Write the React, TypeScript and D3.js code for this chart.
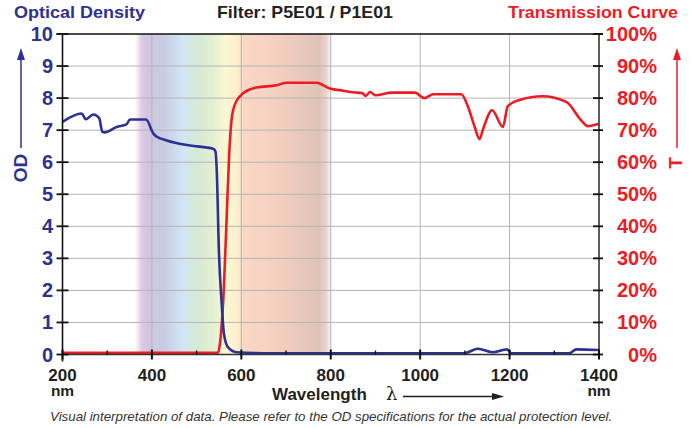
import React from "react";
import * as d3 from "d3";

const odNm = [200, 243, 252, 269, 282, 289, 295, 321, 343, 351, 387, 403, 410, 433, 485, 537, 542, 545, 550, 556, 561, 570, 589, 650, 1099, 1129, 1163, 1194, 1204, 1334, 1349, 1400];
const odValues = [7.26, 7.52, 7.34, 7.49, 7.38, 6.95, 6.93, 7.1, 7.18, 7.33, 7.33, 6.9, 6.8, 6.68, 6.52, 6.42, 6.34, 5.75, 3.15, 1.6, 0.65, 0.23, 0.07, 0.04, 0.04, 0.18, 0.07, 0.16, 0.04, 0.04, 0.16, 0.14];

const tNm = [200, 548, 553, 561, 567, 573, 578, 585, 604, 634, 679, 701, 768, 798, 828, 850, 870, 878, 888, 900, 936, 988, 1010, 1029, 1092, 1107, 1122, 1133, 1140, 1161, 1185, 1196, 1222, 1274, 1327, 1360, 1375, 1400];
const tValues = [0.5, 0.5, 4.4, 21, 42, 63, 73, 77.8, 81.5, 83.3, 84, 84.8, 84.8, 83, 82.3, 81.8, 81.6, 80.7, 81.9, 80.9, 81.7, 81.7, 80, 81.2, 81.2, 77.3, 71, 67.2, 70, 76.2, 71, 77.5, 79.4, 80.6, 78.8, 73.1, 71.25, 72];

const xTicks = [200, 400, 600, 800, 1000, 1200, 1400];
const xMinor = [300, 500, 700, 900, 1100, 1300];
const odTicks = [0, 1, 2, 3, 4, 5, 6, 7, 8, 9, 10];
const tTicks = [0, 10, 20, 30, 40, 50, 60, 70, 80, 90, 100];

const spectrumStops: [number, string][] = [
  [362, "#ffffff"],
  [378, "#dcc8e2"],
  [395, "#cfc6e0"],
  [430, "#c9cde6"],
  [468, "#d3e5f4"],
  [500, "#d6e9d6"],
  [535, "#e2efd3"],
  [565, "#fbf8d4"],
  [590, "#fbf0cc"],
  [605, "#fad8c6"],
  [700, "#f1cdbf"],
  [775, "#dfc3b8"],
  [790, "#e8d5ce"],
  [802, "#ffffff"],
];

const NAVY = "#2e3192";
const RED = "#ed1c24";
const FONT = "'Liberation Sans', Arial, Helvetica, sans-serif";

export default function App() {
  const left = 62.5, right = 599, top = 34, bottom = 354.5;
  const x = d3.scaleLinear().domain([200, 1400]).range([left, right]);
  const yOD = d3.scaleLinear().domain([0, 10]).range([bottom, top]);
  const yT = d3.scaleLinear().domain([0, 100]).range([bottom, top]);

  const odLine = d3
    .line<number>()
    .x((_, i) => x(odNm[i]))
    .y((d) => yOD(d))
    .curve(d3.curveMonotoneX);
  const tLine = d3
    .line<number>()
    .x((_, i) => x(tNm[i]))
    .y((d) => yT(d))
    .curve(d3.curveMonotoneX);

  const g0 = spectrumStops[0][0];
  const g1 = spectrumStops[spectrumStops.length - 1][0];

  return (
    <svg width={692} height={428} style={{ position: "absolute", left: 0, top: 0, background: "#fff" }} fontFamily={FONT}>
      <defs>
        <linearGradient id="spec" gradientUnits="userSpaceOnUse" x1={x(g0)} x2={x(g1)} y1={0} y2={0}>
          {spectrumStops.map(([nm, c], i) => (
            <stop key={i} offset={(nm - g0) / (g1 - g0)} stopColor={c} />
          ))}
        </linearGradient>
      </defs>
      <rect x={0} y={0} width={692} height={428} fill="#fff" />

      {/* spectrum band */}
      <rect x={x(g0)} y={top} width={x(g1) - x(g0)} height={bottom - top} fill="url(#spec)" />

      {/* grid */}
      {odTicks.slice(1, -1).map((t) => (
        <line key={"h" + t} x1={left} x2={right} y1={yOD(t)} y2={yOD(t)} stroke="#b5b5b5" strokeWidth={1} />
      ))}
      {xTicks.slice(1, -1).map((t) => (
        <line key={"v" + t} x1={x(t)} x2={x(t)} y1={top} y2={bottom} stroke="#b5b5b5" strokeWidth={1} />
      ))}

      {/* curves */}
      <path d={tLine(tValues) || ""} fill="none" stroke={RED} strokeWidth={2.6} strokeLinejoin="round" />
      <path d={odLine(odValues) || ""} fill="none" stroke={NAVY} strokeWidth={2.6} strokeLinejoin="round" />

      {/* frame */}
      <line x1={left - 6} x2={right + 4} y1={top} y2={top} stroke="#111" strokeWidth={1.6} />
      <line x1={left} x2={left} y1={top} y2={bottom + 7} stroke="#111" strokeWidth={1.6} />
      <line x1={right} x2={right} y1={top} y2={bottom + 4} stroke="#333" strokeWidth={1.6} />
      <line x1={left} x2={right} y1={bottom} y2={bottom} stroke="#333" strokeWidth={1.4} />

      {/* left ticks & labels */}
      {odTicks.map((t) => (
        <g key={"od" + t}>
          <line x1={left - 6} x2={left + 6} y1={yOD(t)} y2={yOD(t)} stroke="#111" strokeWidth={1.8} />
          <text x={53} y={yOD(t) + 7} textAnchor="end" fontSize={20} fontWeight="bold" fill={NAVY}>
            {t}
          </text>
        </g>
      ))}

      {/* right ticks & labels */}
      {tTicks.map((t) => (
        <g key={"t" + t}>
          <line x1={right - 6} x2={right + 4} y1={yT(t)} y2={yT(t)} stroke="#111" strokeWidth={1.8} />
          <text x={657} y={yT(t) + 7} textAnchor="end" fontSize={20} fontWeight="bold" fill={RED}>
            {t}%
          </text>
        </g>
      ))}

      {/* bottom ticks & labels */}
      {xMinor.map((t) => (
        <line key={"m" + t} x1={x(t)} x2={x(t)} y1={bottom - 4} y2={bottom} stroke="#111" strokeWidth={1.4} />
      ))}
      {xTicks.map((t) => (
        <g key={"x" + t}>
          <line x1={x(t)} x2={x(t)} y1={bottom - 5} y2={bottom + 5} stroke="#111" strokeWidth={2} />
          <text x={x(t)} y={380.5} textAnchor="middle" fontSize={17} fontWeight="bold" fill="#231f20">
            {t}
          </text>
        </g>
      ))}
      <text x={x(200)} y={395.5} textAnchor="middle" fontSize={15.5} fontWeight="bold" fill="#231f20">nm</text>
      <text x={x(1400)} y={395.5} textAnchor="middle" fontSize={15.5} fontWeight="bold" fill="#231f20">nm</text>

      <text x={272} y={400} fontSize={17} fontWeight="bold" fill="#231f20">Wavelength</text>
      <text x={386} y={400} fontSize={18} fill="#231f20" fontFamily="'DejaVu Serif', serif">λ</text>
      <line x1={403} x2={494} y1={396.5} y2={396.5} stroke="#231f20" strokeWidth={1.3} />
      <path d="M492,393 L504,396.5 L492,400 z" fill="#231f20" />

      {/* titles */}
      <text x={14} y={18} fontSize={16.5} fontWeight="bold" fill={NAVY} textLength={131} lengthAdjust="spacingAndGlyphs">Optical Density</text>
      <text x={217} y={18} fontSize={16.5} fontWeight="bold" fill="#231f20" textLength={176} lengthAdjust="spacingAndGlyphs">Filter: P5E01 / P1E01</text>
      <text x={508} y={18} fontSize={16.5} fontWeight="bold" fill={RED} textLength={170} lengthAdjust="spacingAndGlyphs">Transmission Curve</text>

      {/* OD axis label with arrow */}
      <line x1={21} x2={21} y1={148} y2={58} stroke={NAVY} strokeWidth={1.5} />
      <path d="M17,60 L21,48 L25,60 z" fill={NAVY} />
      <text transform="translate(27,168) rotate(-90)" textAnchor="middle" fontSize={19} fontWeight="bold" fill={NAVY}>OD</text>

      {/* T axis label with arrow */}
      <line x1={677} x2={677} y1={148} y2={58} stroke={RED} strokeWidth={1.5} />
      <path d="M673,60 L677,48 L681,60 z" fill={RED} />
      <text transform="translate(682,163) rotate(-90)" textAnchor="middle" fontSize={19} fontWeight="bold" fill={RED}>T</text>

      {/* footnote */}
      <text x={50} y={421} fontSize={13.3} fontStyle="italic" fill="#333">
        Visual interpretation of data. Please refer to the OD specifications for the actual protection level.
      </text>
    </svg>
  );
}
